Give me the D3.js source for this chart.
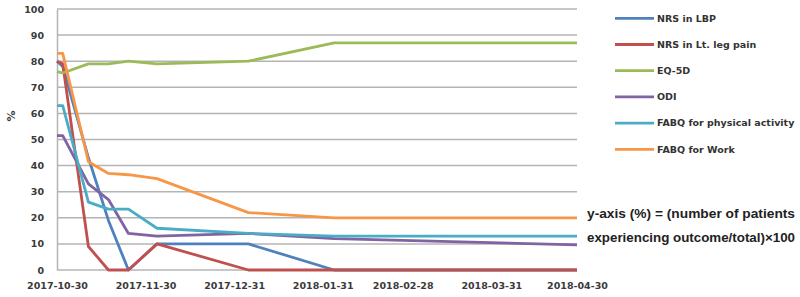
<!DOCTYPE html>
<html>
<head>
<meta charset="utf-8">
<script src="https://cdn.jsdelivr.net/npm/d3@7"></script>
<style>
  body { margin: 0; background: #fff; }
  svg { font-family: "DejaVu Sans", sans-serif; font-weight: bold; }
</style>
</head>
<body>
<div class="home"></div>
<script>
const width = 800;
const height = 297;

const dates = ["2017-10-30", "2017-11-01", "2017-11-10", "2017-11-17", "2017-11-24",
               "2017-12-04", "2018-01-05", "2018-02-04", "2018-04-30"];
const nrsLbp = [80, 78, 43, 19, 0, 10, 10, 0, 0];
const nrsLeg = [80, 79, 9, 0, 0, 10, 0, 0, 0];
const eq5d = [76, 75.5, 79, 79, 80, 79, 80, 87, 87];
const odi = [51.5, 51.5, 33, 27, 14, 13, 14, 12, 9.6];
const fabqPa = [63, 63, 26, 23.3, 23.3, 16, 14, 13, 13];
const fabqWork = [83, 83, 41.5, 37, 36.5, 35, 22, 20, 20];

const seriesNames = ["NRS in LBP", "NRS in Lt. leg pain", "EQ-5D", "ODI",
                     "FABQ for physical activity", "FABQ for Work"];
const seriesValues = [nrsLbp, nrsLeg, eq5d, odi, fabqPa, fabqWork];
const colors = ["#4F81BD", "#C0504D", "#9BBB59", "#8064A2", "#4BACC6", "#F79646"];

const xTickLabels = ["2017-10-30", "2017-11-30", "2017-12-31", "2018-01-31",
                     "2018-02-28", "2018-03-31", "2018-04-30"];
const yTicks = [0, 10, 20, 30, 40, 50, 60, 70, 80, 90, 100];
const note = ["y-axis (%) = (number of patients", "experiencing outcome/total)\u00d7100"];

const parse = d3.utcParse("%Y-%m-%d");

const svg = d3.select(".home").append("svg")
  .attr("width", width)
  .attr("height", height);

const x = d3.scaleUtc()
  .domain([parse(xTickLabels[0]), parse(xTickLabels[xTickLabels.length - 1])])
  .range([57, 577]);
const y = d3.scaleLinear().domain([0, 100]).range([270, 9]);

// horizontal gridlines
svg.append("g")
  .selectAll("line")
  .data(yTicks)
  .enter().append("line")
  .attr("x1", 57).attr("x2", 577)
  .attr("y1", d => y(d)).attr("y2", d => y(d))
  .style("stroke", "#b4b4b4")
  .style("stroke-width", 1.5);

// y axis
const yAxis = svg.append("g")
  .attr("transform", "translate(57,0)")
  .call(d3.axisLeft(y).tickValues(yTicks).tickSize(0).tickPadding(13));
yAxis.select(".domain").style("stroke", "#b4b4b4").style("stroke-width", 1.5);
yAxis.selectAll("text")
  .style("font-size", "9.5px")
  .style("font-weight", "bold")
  .style("font-family", "DejaVu Sans, sans-serif")
  .style("fill", "#3a3a3a");

// x axis labels
const xAxis = svg.append("g")
  .attr("transform", "translate(0,270)")
  .call(d3.axisBottom(x).tickValues(xTickLabels.map(parse)).tickFormat(d3.utcFormat("%Y-%m-%d")).tickSize(0).tickPadding(12));
xAxis.select(".domain").remove();
xAxis.selectAll("text")
  .style("font-size", "9.5px")
  .style("font-weight", "bold")
  .style("font-family", "DejaVu Sans, sans-serif")
  .style("fill", "#3a3a3a");

// y axis title
svg.append("text")
  .attr("transform", "translate(15,116) rotate(-90)")
  .style("text-anchor", "middle")
  .style("font-size", "11px")
  .style("fill", "#3a3a3a")
  .text("%");

// lines
const line = d3.line()
  .x((d, i) => x(parse(dates[i])))
  .y(d => y(d));

svg.append("g")
  .selectAll("path")
  .data(seriesValues)
  .enter().append("path")
  .attr("d", line)
  .style("fill", "none")
  .style("stroke", (d, i) => colors[i])
  .style("stroke-width", 2.8)
  .style("stroke-linejoin", "round");

// legend
const legend = svg.append("g")
  .selectAll("g")
  .data(seriesNames)
  .enter().append("g")
  .attr("transform", (d, i) => "translate(615," + (18.3 + i * 26.2) + ")");
legend.append("line")
  .attr("x1", 0).attr("x2", 39)
  .style("stroke", (d, i) => colors[i])
  .style("stroke-width", 2.8);
legend.append("text")
  .attr("x", 42)
  .attr("dy", "0.35em")
  .style("font-size", "9.5px")
  .style("fill", "#333")
  .text(d => d);

// note
svg.append("g")
  .selectAll("text")
  .data(note)
  .enter().append("text")
  .attr("x", 587)
  .attr("y", (d, i) => 218 + i * 23.5)
  .attr("textLength", 208)
  .attr("lengthAdjust", "spacingAndGlyphs")
  .style("font-family", "Liberation Sans, Arial, sans-serif")
  .style("font-size", "13px")
  .style("fill", "#222")
  .text(d => d);
</script>
</body>
</html>
